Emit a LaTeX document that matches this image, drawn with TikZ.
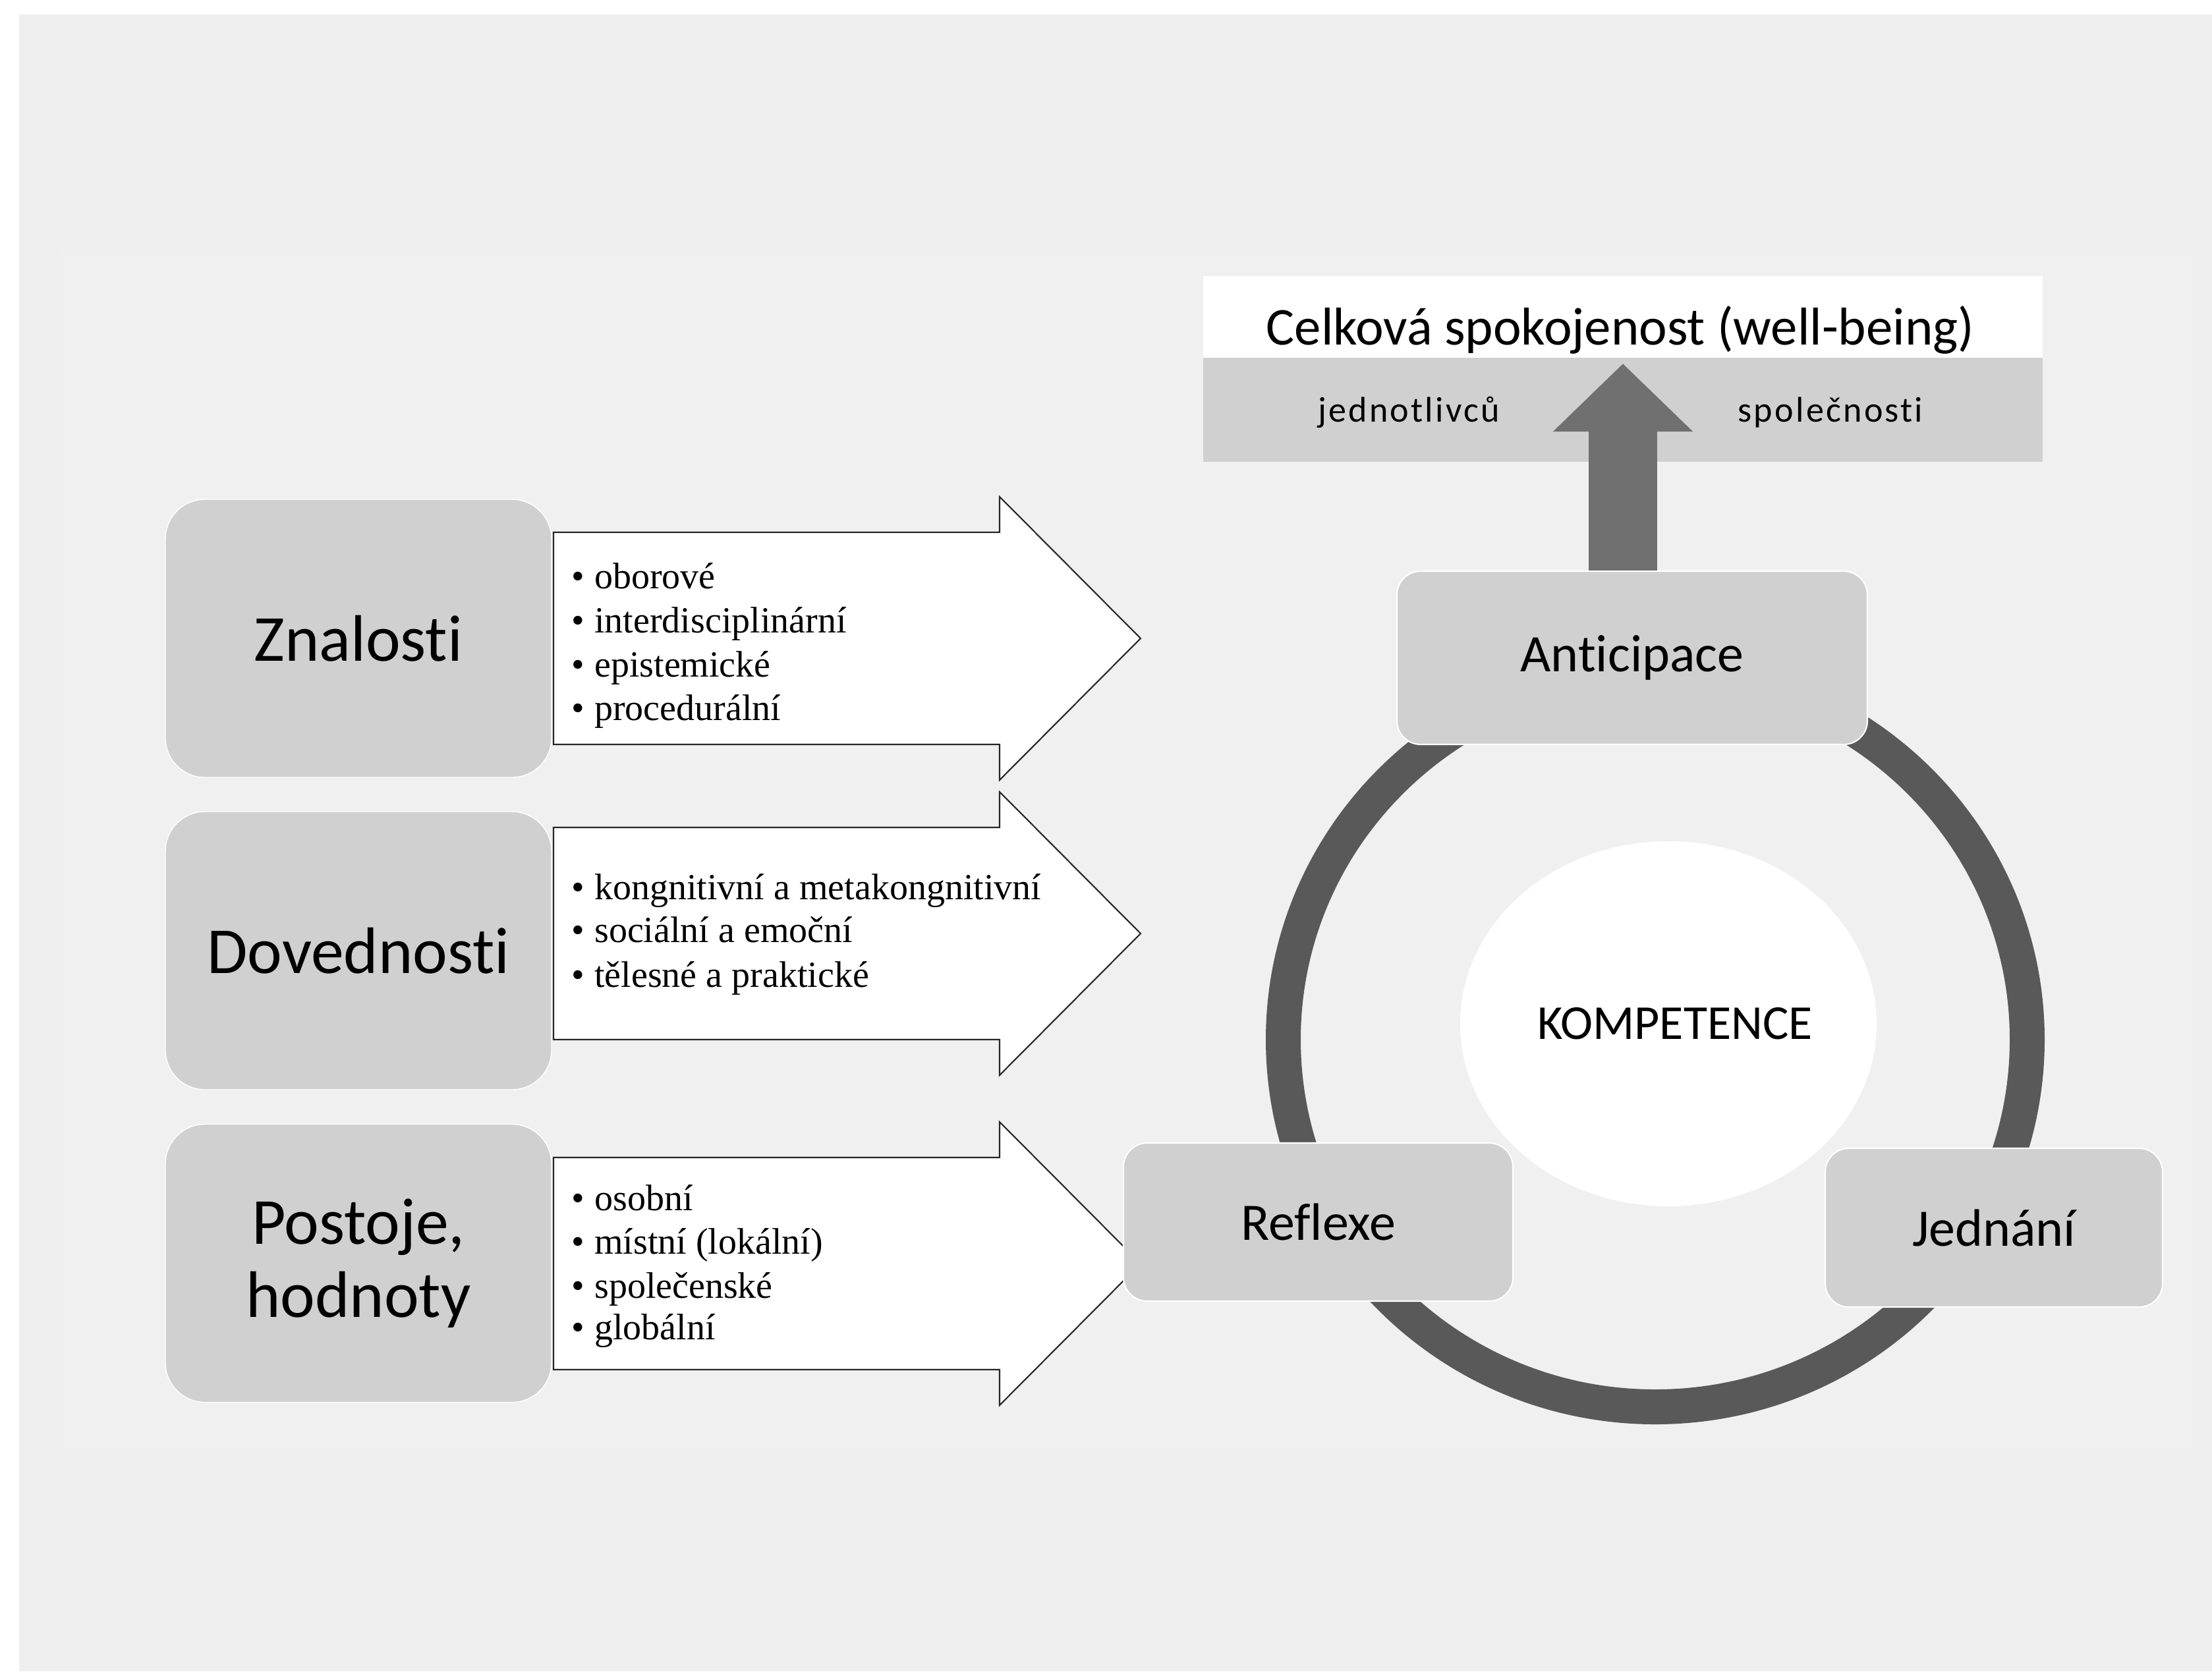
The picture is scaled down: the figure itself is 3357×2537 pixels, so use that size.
\documentclass[tikz,border=0pt]{standalone}
\usepackage{fontspec}
\setmainfont{Liberation Serif}
\newfontfamily\carl[Ligatures=NoCommon]{Carlito}
\usetikzlibrary{arrows.meta,calc,shapes.geometric}
\definecolor{bgg}{RGB}{239,239,239}
\definecolor{bgi}{RGB}{240,240,240}
\definecolor{boxg}{RGB}{208,208,208}
\definecolor{ringg}{RGB}{89,89,89}
\definecolor{arrg}{RGB}{112,112,112}
\newcommand\bigarr[1]{\draw[bigarrow] (840,#1-161) -- (1517,#1-161) -- (1517,#1-215) -- (1731,#1) -- (1517,#1+215) -- (1517,#1+161) -- (840,#1+161) -- cycle;}
\begin{document}
\begin{tikzpicture}[x=0.1mm,y=-0.1mm,
  leftbox/.style={draw=white, line width=0.4pt, fill=boxg, rounded corners=6mm, minimum width=58.6mm, minimum height=42.2mm, inner sep=0pt, font=\carl\fontsize{28.4}{31.6}\selectfont, align=center},
  cbox/.style={draw=white, line width=0.6pt, fill=boxg, rounded corners=3.6mm, inner sep=0pt, font=\carl\fontsize{22.76}{26}\selectfont},
  bigarrow/.style={draw=black!85, line width=0.6pt, fill=white},
  bul/.style={anchor=base west, inner sep=0pt, font=\fontsize{15.93}{19}\selectfont},
  stripfont/.style={font=\carl\addfontfeatures{LetterSpace=6}\fontsize{15.4}{18}\selectfont}
]
% background
\fill[white] (0,0) rectangle (3357,2537);
\fill[bgg] (29,22) rectangle (3357,2537);
\fill[bgi] (92,380) rectangle (3325,2200);

% big white arrows
\bigarr{969}
\bigarr{1417}
\bigarr{1918}

% left boxes
\node[leftbox] (zn) at (544,969) {Znalosti};
\node[leftbox] (dov) at (544,1443) {Dovednosti};
\node[leftbox] (pos) at (544,1917.5) {Postoje,\\hodnoty};

% bullet texts
\node[bul] (z1) at (867,893) {•\hspace{1.5mm}oborové};
\node[bul] (z2) at (867,960) {•\hspace{1.5mm}interdisciplinární};
\node[bul] (z3) at (867,1027) {•\hspace{1.5mm}epistemické};
\node[bul] (z4) at (867,1093) {•\hspace{1.5mm}procedurální};
\node[bul] (d1) at (867,1365) {•\hspace{1.5mm}kongnitivní a metakongnitivní};
\node[bul] (d2) at (867,1430) {•\hspace{1.5mm}sociální a emoční};
\node[bul] (d3) at (867,1498) {•\hspace{1.5mm}tělesné a praktické};
\node[bul] (p1) at (867,1837) {•\hspace{1.5mm}osobní};
\node[bul] (p2) at (867,1903) {•\hspace{1.5mm}místní (lokální)};
\node[bul] (p3) at (867,1970) {•\hspace{1.5mm}společenské};
\node[bul] (p4) at (867,2033) {•\hspace{1.5mm}globální};

% ring
\draw[ringg, line width=5.3mm] (2512,1578) ellipse [x radius=564.5, y radius=557.5];
\node[ellipse, fill=white, minimum width=63.2mm, minimum height=55.4mm, inner sep=0pt] (komp) at (2532,1554) {};
\node[inner sep=0pt, font=\carl\fontsize{21.06}{24}\selectfont] (kompt) at (2542,1554) {KOMPETENCE};

% circle boxes
\node[cbox, minimum width=71.4mm, minimum height=26.3mm] (antic) at (2477,998.5) {Anticipace};
\node[cbox, minimum width=59.1mm, minimum height=24mm] (refl) at (2000.5,1855) {Reflexe};
\node[cbox, minimum width=51.2mm, minimum height=24.1mm] (jedn) at (3026,1863.5) {Jednání};

% well-being box
\node[fill=white, inner sep=0pt, minimum width=127.4mm, minimum height=12.4mm] (wbw) at (2463,481) {};
\node[fill=boxg, inner sep=0pt, minimum width=127.4mm, minimum height=15.8mm] (wbg) at (2463,622) {};
\node[anchor=base, inner sep=0pt, font=\carl\fontsize{23}{26}\selectfont] (wbt) at (2459,523) {Celková spokojenost (well-being)};
\node[anchor=base, inner sep=0pt, stripfont] (jed) at (2138,640) {jednotlivců};
\node[anchor=base, inner sep=0pt, stripfont] (spol) at (2778,640) {společnosti};

% up arrow
\coordinate (tip) at (2463,552);
\draw[arrg, line width=10.4mm, -{Triangle[length=10.3mm,width=20.6mm]}] (tip |- antic.north) -- (tip);
\end{tikzpicture}
\end{document}
